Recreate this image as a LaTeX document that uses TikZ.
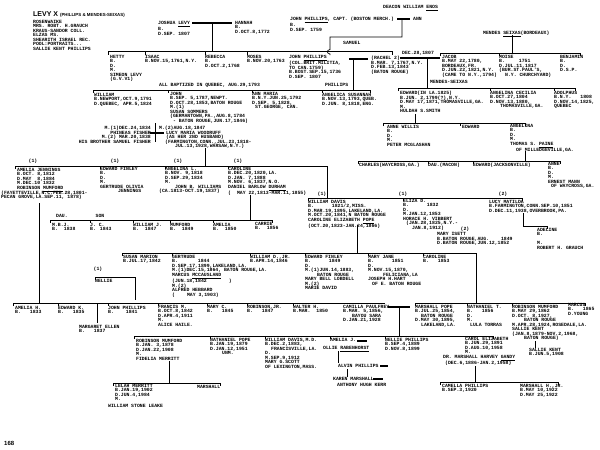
\documentclass[tikz,border=0pt]{standalone}
\usepackage{fontspec}
\newfontfamily\typewr{Liberation Mono}
\newfontfamily\headfont{Liberation Sans}
\newcommand\chart{\typewr\bfseries\fontsize{4.8}{4.5}\selectfont}

\begin{document}
\begin{tikzpicture}[
    x=1pt, y=-1pt,
    entry/.style={anchor=north west, inner sep=0pt, align=left, font=\chart},
    tag/.style={inner sep=0pt, font=\chart},
    famline/.style={line width=0.7pt},
    wedbar/.style={line width=2pt}
  ]
  \useasboundingbox[fill=white] (0,0) rectangle (600,450);

  % heading and sources
  \node[anchor=north west, inner sep=0pt, font=\headfont\bfseries\fontsize{7}{7}\selectfont]
    (title) at (33,11) {LEVY X {\fontsize{4.4}{5}\selectfont (PHILLIPS \& MENDES-SEIXAS)}};
  \node[entry] (sources) at (33,20) {ROSENWAIKE\\MRS. ROBT. H.GRAUCH\\KRAUS-SANDOR COLL.\\ELZAS MS.\\
    SHEARITH ISRAEL REC.\\POOL:PORTRAITS...\\SALLIE KENT PHILLIPS};

  % Levy
  \node[entry] (joshua) at (158,21) {JOSHUA \underline{LEVY}\\B.\\D.SEP. 1807};
  \node[entry] (hannah) at (235,21) {HANNAH\\B.\\D.OCT.8,1772};
  \draw[wedbar] (192,23) -- (232,23);
  \draw[famline] (212,23) -- (212,51.5);
  \draw[famline] (108,54.5) |- (392,51.5) -- (392,54.5);
  \foreach \x in {145,205,247} \draw[famline] (\x,51.5) -- ++(0,3);
  \node[entry] (hetty) at (110,55) {HETTY\\B.\\D.\\M.\\SIMEON LEVY\\(G.V.V1)};
  \node[entry] (isaac) at (145,55) {ISAAC\\B.NOV.15,1761,N.Y.};
  \node[entry] (rebecca) at (205,55) {REBECCA\\B.\\D.OCT.2,1768};
  \node[entry] (moses) at (247,55) {MOSES\\B.NOV.20,1763};
  \node[entry] (baptized) at (159,83) {ALL BAPTIZED IN QUEBEC, AUG.29,1793};

  % Phillips
  \node[entry] (enos) at (383,5) {DEACON WILLIAM \underline{ENOS}};
  \node[entry] (capt) at (290,17) {JOHN \underline{PHILLIPS}, CAPT. (BOSTON MERCH.)\\B.\\D.SEP. 1759};
  \node[entry] (ann) at (413,17) {ANN};
  \draw[wedbar] (397,19) -- (410,19);
  \draw[famline] (402,19) -- (402,37) -- (330,37) -- (330,49.5)
    .. controls (326.5,50) and (326.5,53.5) .. (330,54) -- (330,55);
  \node[entry] (samuel) at (343,41) {SAMUEL};
  \node[entry] (johnp) at (289,55) {JOHN \underline{PHILLIPS}\\(COL.BRIT.MILITIA,\\TO CAN.1759)\\
    B.BOST.SEP.15,1736\\D.SEP. 1807};
  \draw[wedbar] (349,59) -- (368,59);
  \node[entry] (rachel) at (371,56) {(RACHEL 2)\\B.MAR. 7,1767,N.Y.\\D.FEB.13,1843\\(BATON ROUGE)};
  \draw[famline] (353,59) -- (353,90);
  \node[entry] (phillips) at (325,83) {PHILLIPS};

  % Mendes Seixas
  \node[entry] (seixas) at (483,31) {MENDES \underline{SEIXAS}(BORDEAUX)};
  \draw[famline] (512,35) -- (512,53);
  \draw[famline] (440,56) |- (580,53) -- (580,56);
  \draw[famline] (499,53) -- ++(0,3);
  \node[entry] (wedding) at (402,51) {DEC.28,1807};
  \draw[wedbar] (400,58) -- (440,58);
  \node[entry] (jacob) at (442,55) {JACOB\\B.MAY 22,1780,\\BORDEAUX,FR.\\D.JUN.22,1821,N.Y.\\(CAME TO N.Y.,1794)};
  \node[entry] (moise) at (499,55) {MOISE\\B.\hspace*{14pt}1751\\D.JUL.11,1817\\(BUR.ST.PAUL'S,\\
    \hspace*{6pt}N.Y. CHURCHYARD)};
  \node[entry] (benjamin) at (560,55) {BENJAMIN\\B.\\D.\\D.S.P.};
  \draw[famline] (427,58) -- (427,88);
  \node[entry] (msname) at (430,80.5) {MENDES-SEIXAS};
  \draw[famline] (398,91) |- (575,88) -- (575,91);
  \foreach \x in {490,554} \draw[famline] (\x,88) -- ++(0,3);
  \node[entry] (edward) at (400,91) {EDWARD(IN LA.1825)\\B.JUN. 2,1799(?),N.Y.\\
    D.MAY 17,1871,THOMASVILLE,GA.\\M.\\HULDAH S.SMITH};
  \node[entry] (angelinac) at (490,91) {ANGELINA CECILIA\\B.OCT.27,1804\\D.NOV.13,1880,\\
    \hspace*{10pt}THOMASVILLE,GA.};
  \node[entry] (adolphus) at (554,91) {ADOLPHUS\\B.N.Y.\hspace*{9pt}1808\\D.NOV.14,1825,\\QUEBEC};
  \draw[famline] (415,114) -- (415,123);
  \draw[famline] (383,126) |- (525,123) -- (525,126);
  \draw[famline] (460,123) -- ++(0,3);
  \node[entry] (annew) at (387,125) {ANNE WILLIS\\B.\\D.\\M.\\PETER MCGLASHAN};
  \node[entry] (edwardm) at (462,125) {EDWARD};
  \node[entry] (angelina) at (510,124) {ANGELINA\\B.\\D.\\M.\\THOMAS S. \underline{PAINE}\\
    \hspace*{6pt}OF MILLEDGEVILLE,GA.};
  \draw[famline] (525,151) -- (525,161);
  \draw[famline] (358,164) |- (560,161) -- (560,164);
  \foreach \x in {428,473} \draw[famline] (\x,161) -- ++(0,3);
  \node[entry] (charles) at (359,163) {CHARLES(WAYCROSS,GA.)};
  \node[entry] (daughter) at (428,163) {DAU.(MACON)};
  \node[entry] (edwardj) at (473,163) {EDWARD(JACKSONVILLE)};
  \node[entry] (anne) at (548,162) {ANNE\\B.\\D.\\M.\\ERNEST MANN\\\hspace*{3pt}OF WAYCROSS,GA.};

  % children of John Phillips and Rachel
  \draw[famline] (93,93) |- (370,90) -- (370,93);
  \foreach \x in {168,252,322} \draw[famline] (\x,90) -- ++(0,3);
  \node[entry] (william) at (94,93) {WILLIAM\\B.NEWPORT,OCT.9,1791\\D.QUEBEC, APR.5,1824};
  \node[entry] (john) at (170,92) {JOHN\\B.SEP. 5,1787,NEWPT.\\D.OCT.28,1853,BATON ROUGE\\M.(1)\\
    SUSAN SOMMERS\\(GERMANTOWN,PA.,AUG.8,1784\\\hspace*{3pt}- BATON ROUGE,JUN.17,1846)};
  \node[entry] (lucy) at (159,126) {M.(2)AUG.18,1847\\\hspace*{7pt}LUCY MARIA WOODRUFF\\
    \hspace*{7pt}(AS HER 2ND HUSBAND)\\\hspace*{6pt}(FARMINGTON,CONN.,JUL.23,1818-\\
    \hspace*{16pt}JUL.13,1928,WARSAW,N.Y.)};
  \draw[famline] (155,123) -- (155,142);
  \draw[wedbar] (150,133) -- (164,133);
  \node[entry, anchor=north east, align=right] (fisher) at (151,126)
    {M.(1)DEC.24,1834\\PHINEAS FISHER\\M.(2) MAR.20,1838\\HIS BROTHER SAMUEL FISHER};
  \node[entry] (annmaria) at (252,92) {ANN MARIA\\B.N.Y.JUN.25,1792\\D.SEP. 5,1828,\\
    \hspace*{3pt}ST.GEORGE, CAN.};
  \node[entry] (angelicas) at (322,93) {ANGELICA SUSANNAH\\B.NOV.13,1793,QUEB.\\D.JUN. 8,1818,ENG.};

  % children of John
  \draw[famline] (205,148) -- (205,166);
  \draw[famline] (15,169) |- (327,166) -- (327,198);
  \foreach \x in {100,165,228} \draw[famline] (\x,166) -- ++(0,3);
  \foreach \x in {33,115,178,238} \node[tag] at (\x,161.5) {(1)};
  \node[entry] (amelia) at (17,168) {AMELIA JENNINGS\\B.OCT. 8,1812\\D.MAY\hspace*{3pt} 8,1884\\
    M.DEC.10 1832\\ROBINSON \underline{MUMFORD}};
  \node[entry] (mumdates) at (1,190.5) {(FAYETTEVILLE,N.C.FEB.28,1801-\\PECAN GROVE,LA.SEP.11, 1878)};
  \node[entry] (edwardf) at (100,167) {EDWARD FINLEY\\B.\\D.\\M.\\GERTRUDE OLIVIA\\\hspace*{18pt}JENNINGS};
  \node[entry] (angelinal) at (159,167) {\hspace*{6pt}ANGELINA L.\\\hspace*{6pt}B.NOV. 9,1818\\
    \hspace*{6pt}D.SEP.29,1834\\\hspace*{6pt}M.\\\hspace*{16pt}JOHN B. WILLIAMS\\(CA.1813-OCT.19,1837)};
  \node[entry] (caroline) at (228,167) {CAROLINE\\B.DEC.20,1820,LA.\\D.JAN. 7,1888\\
    M.NOV. 6,1837,N.O.\\DANIEL BARLOW \underline{DURHAM}\\(\hspace*{6pt}MAY 22,1813-MAR.11,1855)};

  % Durham children
  \draw[famline] (250,195) -- (250,220);
  \draw[famline] (50,223) |- (272,220) -- (272,223);
  \foreach \x in {90,133,170,213} \draw[famline] (\x,220) -- ++(0,3);
  \node[tag] (daulabel) at (62,216) {DAU.};
  \node[tag] (sonlabel) at (100,216) {SON};
  \node[entry] (mbj) at (52,223) {M.B.J.\\B.\hspace*{6pt}1838};
  \node[entry] (jc) at (90,223) {J. C.\\B.\hspace*{4pt}1843};
  \node[entry] (williamj) at (133,223) {WILLIAM J.\\B.\hspace*{6pt}1847};
  \node[entry] (mumford) at (170,223) {MUMFORD\\B.\hspace*{6pt}1849};
  \node[entry] (ameliad) at (213,223) {AMELIA\\B.\hspace*{6pt}1850};
  \node[entry] (carrie) at (255,222) {CARRIE\\B.\hspace*{6pt}1856};

  % John's younger children
  \draw[famline] (308,201) |- (522,198) -- (522,201);
  \draw[famline] (403,198) -- ++(0,3);
  \foreach \x/\n in {322/1,403/1,503/2} \node[tag] at (\x,194) {(\n)};
  \node[tag] at (465,229) {(2)};
  \node[entry] (williamd) at (308,200) {WILLIAM DAVIS\\B.\hspace*{18pt}1821/2,MISS.\\
    D.MAR.19,1895,LAKELAND,LA.\\M.OCT.20,1841,N BATON ROUGE\\CAROLINE ELIZABETH \underline{POPE}\\
    (OCT.20,1823-JAN.24,1866)};
  \node[entry] (elizad) at (403,199) {ELIZA D.\\B.\hspace*{18pt}1832\\D.\\M.JAN.12,1853\\
    HORACE H. VIBBERT\\\hspace*{3pt}(JAN.28,1825,N.Y.-\\\hspace*{9pt}JAN.8,1912)};
  \node[entry] (lucym) at (489,200) {LUCY MATILDA\\B.FARMINGTON,CONN.SEP.10,1851\\
    D.DEC.11,1938,OVERBROOK,PA.};
  \node[entry] (maryi) at (437,232.5) {MARY ISETT\\B.BATON ROUGE,AUG.\hspace*{12pt}1849\\
    D.BATON ROUGE,JUN.12,1852};
  \draw[famline] (523,213) |- (547,226) -- (547,229);
  \node[entry] (adeline) at (537,228) {ADELINE\\B.\\\\M.\\ROBERT H. GRAUCH};

  % children of William Davis
  \draw[famline] (357,225) -- (357,253);
  \draw[famline] (122,256) |- (476,253) -- (476,303);
  \foreach \x in {172,250,305,368,423} \draw[famline] (\x,253) -- ++(0,3);
  \node[entry] (susan) at (123,255) {SUSAN MARION\\B.JUL.17,1842};
  \node[entry] (gertrude) at (172,255) {GERTRUDE\\B.\hspace*{20pt}1844\\D.SEP.17,1899,LAKELAND,LA.\\
    M.(1)DEC.15,1864, BATON ROUGE,LA.\\MARCUS \underline{MCCAUSLAND}\\(JUN.18,1842\hspace*{22pt})\\
    M.(2)\\ALFRED HEBBARD\\(\hspace*{12pt}MAY 3,1903)};
  \node[entry] (williamdj) at (250,255) {WILLIAM D.,JR.\\B.APR.14,1846};
  \node[entry] (edwardf2) at (305,255) {EDWARD FINLEY\\B.\hspace*{18pt}1849\\D.\\M.(1)JUN.14,1883,\\
    \hspace*{12pt}BATON ROUGE\\MARY BELL LOBDELL\\M.(2)\\MARIE DAVID};
  \node[entry] (maryj) at (368,255) {MARY JANE\\B.\hspace*{18pt}1851\\D.\\M.NOV.15,1870,\\
    \hspace*{15pt}FELICIANA,LA\\JOSEPH H.HART\\\hspace*{4pt}OF E. BATON ROUGE};
  \node[entry] (caroline2) at (423,255) {CAROLINE\\B.\hspace*{9pt}1853};
  \node[tag] at (98,269) {(1)};
  \node[entry] (nellie) at (95,279) {NELLIE};
  \draw[famline] (95,280) |- (135,277) -- (135,300);

  % children of Amelia Jennings and Robinson Mumford
  \draw[famline] (39,203) -- (39,303);
  \draw[famline] (13,306) |- (385,303);
  \draw[famline] (415,306) |- (585,303) -- (585,306);
  \foreach \x in {58,108,158,207,247,293,467,512} \draw[famline] (\x,303) -- ++(0,3);
  \draw[famline] (97,303) -- (97,323);
  \node[entry] (ameliah) at (15,306) {AMELIA H.\\B.\hspace*{9pt}1833};
  \node[entry] (edwardk) at (58,306) {EDWARD K.\\B.\hspace*{9pt}1835};
  \node[entry] (margaret) at (79,325) {MARGARET ELLEN\\B.\hspace*{9pt}1837};
  \node[entry] (johnph) at (108,306) {JOHN PHILLIPS\\B.\hspace*{12pt}1841};
  \node[entry] (francis) at (158,305) {FRANCIS M.\\B.OCT.8,1842\\D.APR.4,1911\\M.\\ALICE HAILE.};
  \node[entry] (maryc) at (207,305) {MARY C.\\B.\hspace*{9pt}1845};
  \node[entry] (robjr) at (247,305) {ROBINSON,JR.\\B.\hspace*{9pt}1847};
  \node[entry] (walter) at (293,305) {WALTER H.\\B.MAR.\hspace*{6pt}1850};
  \node[entry] (camilla) at (343,305) {CAMILLA PAULFREY\\B.MAR. 5,1856,\\\hspace*{9pt}BAYOU SARA\\
    D.JAN.21,1928};
  \draw[wedbar] (388,307) -- (410,307);
  \node[entry] (marshall) at (415,305) {MARSHALL POPE\\B.JUL.25,1854,\\\hspace*{6pt}BATON ROUGE\\
    D.MAY 30,1895,\\\hspace*{6pt}LAKELAND,LA.};
  \node[entry] (nathaniel) at (467,305) {NATHANIEL T.\\B.\hspace*{9pt}1856\\D.\\M.\\\hspace*{3pt}LULA TORRAS};
  \node[entry] (robinson) at (512,305) {ROBINSON MUMFORD\\B.MAY 29,1862\\D.OCT. 8,1927,\\
    \hspace*{12pt}BATON ROUGE\\M.APR.28,1924,ROSEDALE,LA.\\SALLIE KENT\\(JAN.8,1879-NOV.2,1968,\\
    \hspace*{12pt}BATON ROUGE)};
  \node[entry] (marcus) at (568,303) {MARCUS\\B.\hspace*{9pt}1865\\D.YOUNG};

  % children of Marshall Pope and Camilla
  \draw[famline] (399,307) -- (399,336);
  \draw[famline] (134,339) |- (493,336) -- (493,339);
  \foreach \x in {210,265,330,385} \draw[famline] (\x,336) -- ++(0,3);
  \node[entry] (robinsonm) at (136,339) {ROBINSON MUMFORD\\B.JAN. 3,1878\\D.JAN.22,1908\\M.\\
    FIDELIA MERRITT};
  \draw[famline] (169,361) -- (169,383);
  \draw[famline] (113,386) |- (220,383) -- (220,386);
  \node[entry] (lelah) at (115,384) {LELAH MERRITT\\B.JAN.19,1902\\D.JUN.4,1984\\M.};
  \node[entry] (leake) at (108,404) {WILLIAM STONE LEAKE};
  \node[entry] (marshallc) at (197,385) {MARSHALL};
  \node[entry] (natpope) at (210,338) {NATHANIEL POPE\\B.JAN.19,1879\\D.JAN.12,1951\\\hspace*{12pt}UNM.};
  \node[entry] (williamdm) at (265,338) {WILLIAM DAVIS,M.D.\\B.DEC.2,1883,\\
    \hspace*{6pt}FRANCISVILLE,LA.\\D.\\M.SEP.9,1912\\MARY G.SCOTT\\OF LEXINGTON,MASS.};
  \node[entry] (ameliaj) at (330,338) {AMELIA J.};
  \draw[wedbar] (357,340.5) -- (367,340.5);
  \node[entry] (ollie) at (323,346) {OLLIE \underline{RABENHORST}};
  \draw[famline] (338,351) -- (338,363);
  \node[entry] (alvin) at (338,364) {ALVIN PHILLIPS};
  \draw[wedbar] (380,366) -- (388,366);
  \draw[famline] (347,369) -- (347,377);
  \node[entry] (karen) at (333,377) {KAREN MARSHALL};
  \draw[wedbar] (373,379) -- (383,379);
  \node[entry] (anthony) at (337,383) {ANTHONY HUGH KERR};
  \node[entry] (nellie2) at (385,338) {NELLIE PHILLIPS\\B.SEP.4,1889\\D.NOV.8,1899};
  \node[entry] (carol) at (465,337) {CAROL ELIZABETH\\B.JUN.29,1891\\D.AUG.10,1958\\M.};
  \node[entry] (gandy) at (443,355) {DR. MARSHALL HARVEY \underline{GANDY}\\
    \hspace*{2pt}(DEC.6,1886-JAN.2,1958)};
  \draw[famline] (475,366) -- (475,382);
  \draw[famline] (440,385) |- (558,382) -- (558,385);
  \node[entry] (camella) at (442,384) {CAMELLA PHILLIPS\\B.SEP.3,1920};
  \node[entry] (marshalljr) at (520,384) {MARSHALL H.,JR.\\B.MAY 10,1922\\D.MAY 25,1922};
  \draw[famline] (535,341) -- (535,348);
  \node[entry] (sallie) at (529,348) {SALLIE KENT\\B.JUN.5,1908};

  \node[anchor=north west, inner sep=0pt, font=\headfont\bfseries\fontsize{6}{6}\selectfont]
    (page) at (4,441) {168};
\end{tikzpicture}
\end{document}
